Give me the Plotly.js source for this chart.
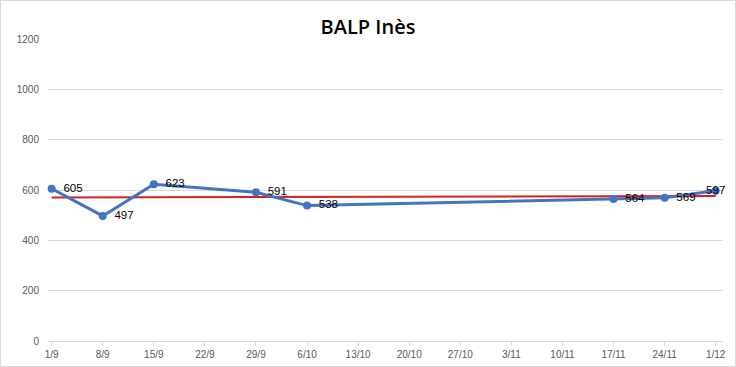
<!DOCTYPE html>
<html><head><meta charset="utf-8">
<script src="https://cdn.plot.ly/plotly-3.0.1.min.js"></script>
<style>html,body{margin:0;padding:0;background:#fff}#c{width:736px;height:367px;box-sizing:border-box;border:1px solid #d9d9d9}</style>
</head><body><div id="c"></div>
<script>
const dates = ["2023-09-01","2023-09-08","2023-09-15","2023-09-29","2023-10-06","2023-11-17","2023-11-24","2023-12-01"];
const values = [605,497,623,591,538,564,569,597];
const trendDates = ["2023-09-01","2023-12-01"];
const trendValues = [570,576];
const tickDates = ["2023-09-01","2023-09-08","2023-09-15","2023-09-22","2023-09-29","2023-10-06","2023-10-13","2023-10-20","2023-10-27","2023-11-03","2023-11-10","2023-11-17","2023-11-24","2023-12-01"];
const tickLabels = ["1/9","8/9","15/9","22/9","29/9","6/10","13/10","20/10","27/10","3/11","10/11","17/11","24/11","1/12"];
const yTicks = [0,200,400,600,800,1000,1200];

const positions = values.map((v,i) => i === values.length-1 ? "middle center" : "middle right");
const labels = values.map((v,i) => i === values.length-1 ? String(v) : "\u2002" + v);
const traces = [
  {x: trendDates, y: trendValues, mode:"lines", line:{color:"#d42020", width:2}, hoverinfo:"skip"},
  {x: dates, y: values, mode:"lines+markers+text", text: labels, textposition: positions, cliponaxis:false,
   textfont:{family:"Liberation Sans, Arial", size:11.5, color:"#000"},
   line:{color:"#4472c4", width:3}, marker:{color:"#4472c4", size:8}}
];
const layout = {
  width:734, height:365, showlegend:false,
  margin:{l:47, r:12, t:38, b:25},
  paper_bgcolor:"#fff", plot_bgcolor:"#fff",
  title:{text:"BALP Inès", x:0.5, xanchor:"center", y:0.93, yanchor:"middle",
         font:{family:"Open Sans, Liberation Sans", size:20, color:"#000", weight:600}},
  xaxis:{type:"date", range:["2023-08-31 12:00","2023-12-02"], tickvals:tickDates, ticktext:tickLabels,
         showgrid:false, zeroline:false, showline:false, ticks:"outside", ticklen:4, tickcolor:"#d9d9d9",
         tickfont:{family:"Liberation Sans, Arial", size:10, color:"#595959"}},
  yaxis:{range:[0,1200], tickvals:yTicks, showgrid:true, gridcolor:"#d9d9d9", zeroline:true, zerolinecolor:"#d9d9d9",
         showline:false, ticks:"", ticklabelstandoff:8,
         tickfont:{family:"Liberation Sans, Arial", size:10, color:"#595959"}}
};
Plotly.newPlot("c", traces, layout, {displayModeBar:false, staticPlot:true});
</script></body></html>
